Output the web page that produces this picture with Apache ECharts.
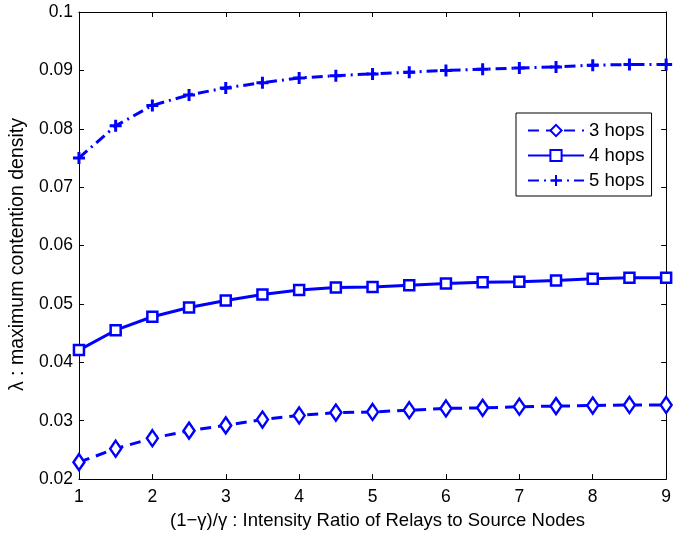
<!DOCTYPE html>
<html><head><meta charset="utf-8">
<script src="https://cdn.jsdelivr.net/npm/echarts@6/dist/echarts.min.js"></script>
<style>html,body{margin:0;padding:0;background:#fff}#c{width:674px;height:535px}</style>
</head><body><div id="c"></div>
<script>
const xValues = [1,1.5,2,2.5,3,3.5,4,4.5,5,5.5,6,6.5,7,7.5,8,8.5,9];
const hops3 = [0.0229,0.0252,0.0270,0.0283,0.0292,0.0302,0.0309,0.0314,0.0315,0.0318,0.0321,0.0322,0.0324,0.0325,0.0326,0.0327,0.0327];
const hops4 = [0.0421,0.0455,0.0478,0.0494,0.0506,0.0516,0.0524,0.0528,0.0529,0.0532,0.0535,0.0537,0.0538,0.0540,0.0543,0.0545,0.0545];
const hops5 = [0.0750,0.0805,0.0840,0.0858,0.0870,0.0879,0.0887,0.0891,0.0894,0.0897,0.0900,0.0902,0.0904,0.0906,0.0909,0.0910,0.0910];
const seriesNames = ['3 hops','4 hops','5 hops'];
const xTitle = '(1\u2212\u03b3)/\u03b3 : Intensity Ratio of Relays to Source Nodes';
const yTitle = '\u03bb : maximum contention density';

const blue = '#0000ff';
const font = 'Liberation Sans';
const pair = arr => arr.map((v,i)=>[xValues[i], v]);
const plusPath = 'path://M0,5L10,5M5,0L5,10';

const chart = echarts.init(document.getElementById('c'), null, {renderer:'canvas'});
const tickStyle = {show:true, inside:true, length:5, lineStyle:{color:'#000', width:1}};
chart.setOption({
  animation:false,
  backgroundColor:'#fff',
  grid:{left:74, right:3, top:12, bottom:50, containLabel:false},
  legend:{
    data:seriesNames, orient:'vertical', left:516, top:113,
    padding:[8,7,6,11], itemGap:6, itemWidth:56, itemHeight:14,
    borderColor:'#000', borderWidth:1, backgroundColor:'#fff',
    textStyle:{fontFamily:font, fontSize:18.5, lineHeight:19, color:'#000'}
  },
  xAxis:[{
    type:'value', min:1, max:9, interval:1,
    name:xTitle, nameLocation:'middle', nameGap:28,
    nameTextStyle:{fontFamily:font, fontSize:18.5, color:'#000', padding:[0,0,0,10]},
    axisLine:{show:true, lineStyle:{color:'#000', width:1}},
    axisTick:tickStyle, splitLine:{show:false},
    axisLabel:{fontFamily:font, fontSize:17.5, color:'#000', margin:9}
  },{
    type:'value', min:1, max:9, interval:1, position:'top',
    axisLine:{show:true, lineStyle:{color:'#000', width:1}},
    axisTick:tickStyle, axisLabel:{show:false}, splitLine:{show:false}
  }],
  yAxis:[{
    type:'value', min:0.02, max:0.1, interval:0.01,
    name:yTitle, nameLocation:'middle', nameGap:50,
    nameTextStyle:{fontFamily:font, fontSize:19.5, color:'#000', padding:[0,18,0,0]},
    axisLine:{show:true, lineStyle:{color:'#000', width:1}},
    axisTick:tickStyle, splitLine:{show:false},
    axisLabel:{fontFamily:font, fontSize:17.5, color:'#000', margin:6,
      formatter:v=>String(+v.toFixed(2))}
  },{
    type:'value', min:0.02, max:0.1, interval:0.01, position:'right',
    axisLine:{show:true, lineStyle:{color:'#000', width:1}},
    axisTick:tickStyle, axisLabel:{show:false}, splitLine:{show:false}
  }],
  series:[
    {name:seriesNames[0], type:'line', data:pair(hops3), symbol:'diamond', symbolSize:[11,16],
      lineStyle:{color:blue, width:3, type:[11,7]},
      itemStyle:{color:'#fff', borderColor:blue, borderWidth:2.5}},
    {name:seriesNames[1], type:'line', data:pair(hops4), symbol:'rect', symbolSize:10,
      lineStyle:{color:blue, width:3, type:'solid'},
      itemStyle:{color:'#fff', borderColor:blue, borderWidth:2.5}},
    {name:seriesNames[2], type:'line', data:pair(hops5), symbol:plusPath, symbolSize:12,
      lineStyle:{color:blue, width:3, type:[11,5,2,5]},
      itemStyle:{color:'none', borderColor:blue, borderWidth:3}}
  ]
});
</script></body></html>
